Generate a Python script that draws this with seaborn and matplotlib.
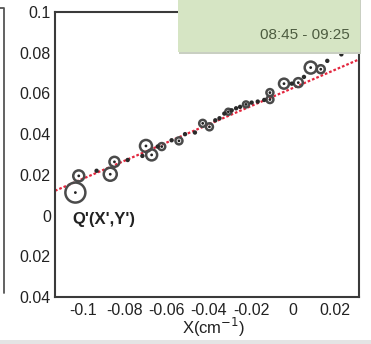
import matplotlib
matplotlib.use("Agg")
import numpy as np
import pandas as pd
import seaborn as sns
import matplotlib.pyplot as plt
from matplotlib.patches import Rectangle
from matplotlib.lines import Line2D
from matplotlib.ticker import MultipleLocator

# measured points shown as open rings (with weight -> ring size)
ring_x = [-0.1036, -0.1020, -0.0870, -0.0850, -0.0700, -0.0673, -0.0625, -0.0543,
          -0.0430, -0.0398, -0.0308, -0.0224, -0.0110, -0.0110, -0.0043, 0.0025,
          0.0084, 0.0132]
ring_y = [0.0113, 0.0195, 0.0203, 0.0264, 0.0342, 0.0298, 0.0339, 0.0367,
          0.0453, 0.0436, 0.0510, 0.0546, 0.0604, 0.0570, 0.0648, 0.0653,
          0.0727, 0.0719]
ring_w = [10, 5.5, 6.5, 5, 6, 5.5, 3.5, 3.5,
          3.5, 3.5, 3, 3, 3.5, 3.5, 5, 4.5,
          6, 4]

# small filled points
dot_x = [-0.0935, -0.0787, -0.0717, -0.0644, -0.0578, -0.0514, -0.0467, -0.0370,
         -0.0350, -0.0327, -0.0292, -0.0271, -0.0252, -0.0197, -0.0168, -0.0137,
         -0.0006, 0.0052, 0.0163, 0.0230]
dot_y = [0.0220, 0.0273, 0.0293, 0.0339, 0.0370, 0.0400, 0.0408, 0.0468,
         0.0478, 0.0501, 0.0517, 0.0527, 0.0534, 0.0555, 0.0560, 0.0568,
         0.0648, 0.0681, 0.0760, 0.0792]

# linear fit
fit_slope = 0.446
fit_intercept = 0.0627

x_ticks = [-0.1, -0.08, -0.06, -0.04, -0.02, 0, 0.02]
x_tick_labels = ["-0.1", "-0.08", "-0.06", "-0.04", "-0.02", "0", "0.02"]
y_ticks = [0.1, 0.08, 0.06, 0.04, 0.02, 0, -0.02, -0.04]
y_tick_labels = ["0.1", "0.08", "0.06", "0.04", "0.02", "0", "0.02", "0.04"]
x_range = (-0.1133, 0.0314)
y_range = (-0.04, 0.1)

sns.set_style("white")
plt.rcParams["font.family"] = ["Liberation Sans", "DejaVu Sans"]

fig = plt.figure(figsize=(3.71, 3.44), dpi=100)
W, H = 371, 344
ax = fig.add_axes([55 / W, 1 - 297 / H, 304 / W, 285 / H])

# fit line
fit_x = np.array(x_range)
fit_y = fit_slope * fit_x + fit_intercept
sns.lineplot(x=fit_x, y=fit_y, ax=ax, color="#e3263e", linewidth=1.6,
             linestyle=(0, (1.2, 0.9)), zorder=2)

# rings
px_to_pt = 72 / 100
ring_s = [(2 * r * px_to_pt) ** 2 for r in ring_w]
rings = pd.DataFrame({"x": ring_x, "y": ring_y})
sns.scatterplot(data=rings, x="x", y="y", s=ring_s, facecolors="none",
                edgecolor="#4a4a4a", linewidth=1.8, ax=ax, zorder=3)
sns.scatterplot(data=rings, x="x", y="y", s=4, color="#222222",
                edgecolor="none", ax=ax, zorder=4)

# dots
dots = pd.DataFrame({"x": dot_x, "y": dot_y})
sns.scatterplot(data=dots, x="x", y="y", s=10, color="#2a2a2a",
                edgecolor="none", ax=ax, zorder=4)

ax.set_xlim(*x_range)
ax.set_ylim(*y_range)
ax.set_xticks(x_ticks)
ax.set_xticklabels(x_tick_labels)
ax.set_yticks(y_ticks)
ax.set_yticklabels(y_tick_labels)
ax.xaxis.set_minor_locator(MultipleLocator(0.005))
ax.yaxis.set_minor_locator(MultipleLocator(0.004))
ax.tick_params(which="both", direction="in", top=False, right=False,
               colors="#333333", labelcolor="#222222", width=1.2)
ax.tick_params(which="major", length=6.5, labelsize=11.5)
ax.tick_params(axis="x", which="major", pad=4)
ax.tick_params(axis="y", which="major", pad=3)
ax.tick_params(which="minor", length=3.5)
for sp in ax.spines.values():
    sp.set_color("#3a3a3a")
    sp.set_linewidth(1.5)

ax.set_xlabel("X(cm$^{-1}$)", fontsize=12, color="#222222")
ax.set_ylabel("")
ax.xaxis.set_label_coords(0.52, -0.068)

ax.text(-0.1052, -0.002, "Q'(X',Y')", fontsize=12, fontweight="bold",
        color="#222222", va="center", ha="left")

# neighbouring panel edge at far left
fig.add_artist(Line2D([0, 3.5 / W, 3.5 / W], [1 - 8 / H, 1 - 8 / H, 1 - 293 / H],
                      color="#555555", linewidth=1.3))

# bottom grey band
fig.add_artist(Rectangle((0, 0), 1, 4 / H, facecolor="#e4e4e4",
                         edgecolor="none", zorder=-1))

# green info box in the corner
fig.add_artist(Rectangle((179 / W, 1 - 54 / H), 182 / W, 54 / H,
                         facecolor="#c9cfc2", edgecolor="none"))
fig.add_artist(Rectangle((178 / W, 1 - 52 / H), 182 / W, 52 / H,
                         facecolor="#d6e5c4", edgecolor="none"))
fig.text(350 / W, 1 - 35 / H, "08:45 - 09:25", fontsize=11, color="#4d5c40",
         ha="right", va="center")

fig.savefig("out.png", dpi=100)
